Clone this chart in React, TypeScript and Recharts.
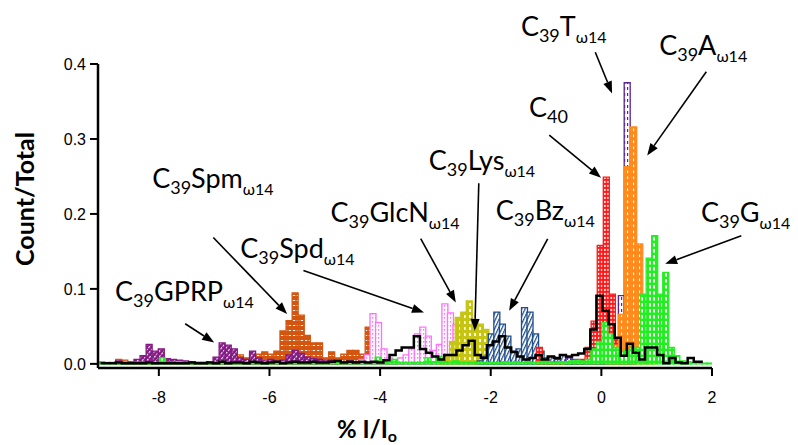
import React from 'react'
import { ComposedChart, Bar, Line, XAxis, YAxis, ReferenceLine, ReferenceDot, Label } from 'recharts'

// axis ranges (% I/Io on x, count/total on y)
const X_DOMAIN: [number, number] = [-9.1, 2]
const Y_DOMAIN: [number, number] = [-0.0055, 0.4]
const xTicks = [-8, -6, -4, -2, 0, 2]
const yTicks = [0, 0.1, 0.2, 0.3, 0.4]

// each histogram: centre of first bin, bin width, count/total per bin
const spmStart = -8.725
const spmStep = 0.11
const spmCounts = [
  0.006, 0.005, 0.002, 0.001, 0.001, 0.001, 0.001, 0, 0.001, 0.001,
  0.001, 0.001, 0.001, 0.001, 0.001, 0.002, 0.002, 0.003, 0.005, 0.006,
  0.012, 0.008, 0.013, 0.013, 0.016, 0.013, 0.017, 0.044, 0.0575, 0.0946,
  0.065, 0.038, 0.028, 0.028, 0.008, 0.016, 0.008, 0.013, 0.018, 0.018,
  0.013, 0.049, 0.032, 0.01, 0.004, 0.002,
]

const gprpStart = -8.725
const gprpStep = 0.11
const gprpCounts = [
  0.004, 0.003, 0.003, 0.006, 0.011, 0.026, 0.017, 0.02, 0.007, 0.006,
  0.005, 0.004, 0.003, 0.002, 0.002, 0.003, 0.009, 0.028, 0.025, 0.02,
  0.008, 0.006, 0.017, 0.008, 0.004, 0.006, 0.004, 0.005, 0.012, 0.018,
  0.014, 0.009, 0.007, 0.006, 0.004, 0.005, 0.004, 0.003, 0.004, 0.003,
  0.002, 0.003, 0.002, 0.002, 0.003, 0.002, 0.002, 0.003, 0.002, 0.004,
  0.003, 0.002, 0.003, 0.002, 0.002, 0.004, 0.005, 0.004, 0.005, 0.004,
  0.003,
]

const spdStart = -4.333
const spdStep = 0.1
const spdCounts = [
  0.006, 0.012, 0.067, 0.055, 0.02, 0.008, 0.005, 0.008, 0.012, 0.02,
  0.04, 0.049, 0.037, 0.018, 0.026, 0.08, 0.068, 0.053, 0.046, 0.03,
  0.02, 0.01, 0.006, 0.004, 0.003, 0.004, 0.003, 0.002, 0.003, 0.002,
  0.003, 0.002,
]

const glcnStart = -2.892
const glcnStep = 0.1
const glcnCounts = [0.005, 0.01, 0.03, 0.062, 0.069, 0.084, 0.058, 0.053, 0.046, 0.022, 0.012, 0.006, 0.004]

const bzStart = -2.194
const bzStep = 0.1
const bzCounts = [
  0.004, 0.01, 0.04, 0.069, 0.053, 0.037, 0.017, 0.02, 0.075, 0.069,
  0.04, 0.017, 0.008, 0.01, 0.006, 0.012, 0.008, 0.004, 0.003,
]

const c40Start = -1.12
const c40Step = 0.11
const c40Counts = [0.022, 0.004, 0.003, 0.002, 0.003, 0.002, 0.004, 0.006, 0.022, 0.057, 0.158, 0.249, 0.093, 0.035, 0.01, 0.004]

const tStart = -0.585
const tStep = 0.105
const tCounts = [0.008, 0.006, 0.003, 0.002, 0.004, 0.003, 0.002, 0.004, 0.006, 0.091, 0.375, 0.01]

const aStart = 0.145
const aStep = 0.11
const aCounts = [0.01, 0.025, 0.066, 0.263, 0.316, 0.16, 0.012, 0.005]

const gStart = -9.04
const gStep = 0.1
const gCounts = [
  0.003, 0.002, 0.002, 0.002, 0.003, 0.002, 0.002, 0.002, 0.002, 0.003,
  0.002, 0.008, 0.002, 0.002, 0.003, 0.002, 0.002, 0.002, 0.002, 0.002,
  0.003, 0.002, 0.002, 0.002, 0.002, 0.002, 0.003, 0.002, 0.002, 0.002,
  0.002, 0.002, 0.002, 0.003, 0.002, 0.002, 0.002, 0.002, 0.002, 0.002,
  0.003, 0.002, 0.002, 0.002, 0.002, 0.002, 0.002, 0.003, 0.002, 0.003,
  0.009, 0.003, 0.002, 0.006, 0.002, 0.002, 0.002, 0.002, 0.002, 0.008,
  0.003, 0.01, 0.003, 0.002, 0.004, 0.002, 0.002, 0.002, 0.002, 0.002,
  0.002, 0.002, 0.002, 0.003, 0.002, 0.003, 0.002, 0.003, 0.002, 0.003,
  0.004, 0.003, 0.002, 0.003, 0.003, 0.004, 0.005, 0.004, 0.006, 0.02,
  0.03, 0.055, 0.04, 0.022, 0.016, 0.018, 0.022, 0.022, 0.093, 0.141,
  0.171, 0.093, 0.122, 0.022, 0.011, 0.004, 0.003, 0.002, 0.002, 0.001,
  0.001,
]

// C39Lys is drawn as a black outline
const lysStart = -9.055
const lysStep = 0.11
const lysCounts = [
  0.001, 0.001, 0.001, 0.002, 0.001, 0.001, 0.001, 0.001, 0.002, 0.001,
  0.001, 0.001, 0.001, 0.001, 0.001, 0.002, 0.001, 0.001, 0.002, 0.001,
  0.003, 0.001, 0.002, 0.002, 0.001, 0.003, 0.002, 0.001, 0.002, 0.003,
  0.001, 0.002, 0.003, 0.002, 0.002, 0.003, 0.002, 0.002, 0.003, 0.004,
  0.002, 0.003, 0.002, 0.003, 0.002, 0.003,
  0.002, 0.005, 0.012, 0.018, 0.022, 0.022, 0.037, 0.02, 0.015, 0.01,
  0.006, 0.012, 0.012, 0.018, 0.025, 0.031, 0.012, 0.008, 0.025, 0.03,
  0.037, 0.022, 0.016, 0.01, 0.006, 0.008, 0.012, 0.006, 0.01, 0.008,
  0.012, 0.01, 0.012, 0.014, 0.02, 0.046, 0.091, 0.071, 0.053, 0.035,
  0.011, 0.027, 0.015, 0.006, 0.022, 0.022, 0.012, 0.001, 0.008, 0.002,
  0.001, 0.008, 0.003, 0.003,
]

// annotation text anchors (left / baseline) and arrows, in axis units
const tags = [
  { sub: '39', name: 'GPRP', tail: true, x: -8.792, y: 0.0843 },
  { sub: '39', name: 'Spm', tail: true, x: -8.121, y: 0.234 },
  { sub: '39', name: 'Spd', tail: true, x: -6.527, y: 0.1418 },
  { sub: '39', name: 'GlcN', tail: true, x: -4.897, y: 0.1886 },
  { sub: '39', name: 'Lys', tail: true, x: -3.121, y: 0.258 },
  { sub: '39', name: 'Bz', tail: true, x: -1.908, y: 0.1913 },
  { sub: '40', name: '', tail: false, x: -1.31, y: 0.329 },
  { sub: '39', name: 'T', tail: true, x: -1.455, y: 0.437 },
  { sub: '39', name: 'A', tail: true, x: 1.045, y: 0.412 },
  { sub: '39', name: 'G', tail: true, x: 1.8, y: 0.1886 },
]

const arrows = [
  { x1: -7.524, y1: 0.0535, x2: -7.0, y2: 0.0285 },
  { x1: -7.016, y1: 0.1686, x2: -5.681, y2: 0.0665 },
  { x1: -5.386, y1: 0.1244, x2: -3.207, y2: 0.0686 },
  { x1: -3.266, y1: 0.167, x2: -2.632, y2: 0.082 },
  { x1: -2.216, y1: 0.241, x2: -2.288, y2: 0.044 },
  { x1: -0.971, y1: 0.1668, x2: -1.667, y2: 0.0709 },
  { x1: -0.942, y1: 0.305, x2: -0.006, y2: 0.2484 },
  { x1: -0.11, y1: 0.4157, x2: 0.194, y2: 0.3608 },
  { x1: 1.897, y1: 0.3897, x2: 0.828, y2: 0.278 },
  { x1: 2.53, y1: 0.171, x2: 1.154, y2: 0.1334 },
]

const toBins = (start: number, step: number, counts: number[]) =>
  counts.map((y, i) => ({ x: +(start + i * step).toFixed(4), y }))

// drawn back to front
const histograms = [
  { id: 'spm', color: '#D4550F', fill: 'url(#patSpm)', rows: toBins(spmStart, spmStep, spmCounts) },
  { id: 'gprp', color: '#841984', fill: 'url(#patGprp)', rows: toBins(gprpStart, gprpStep, gprpCounts) },
  { id: 'spd', color: '#FF70FF', fill: 'url(#patSpd)', rows: toBins(spdStart, spdStep, spdCounts) },
  { id: 'glcn', color: '#C6C414', fill: 'url(#patGlcn)', rows: toBins(glcnStart, glcnStep, glcnCounts) },
  { id: 'bz', color: '#1F4E8C', fill: 'url(#patBz)', rows: toBins(bzStart, bzStep, bzCounts) },
  { id: 'c40', color: '#FF1A1A', fill: 'url(#patC40)', rows: toBins(c40Start, c40Step, c40Counts) },
  { id: 't', color: '#5B239E', fill: 'url(#patT)', rows: toBins(tStart, tStep, tCounts) },
  { id: 'a', color: '#FF8A1C', fill: 'url(#patA)', rows: toBins(aStart, aStep, aCounts) },
  { id: 'g', color: '#22EE22', fill: 'url(#patG)', rows: toBins(gStart, gStep, gCounts) },
]
const lysRows = toBins(lysStart, lysStep, lysCounts)

const W = 790
const H = 437
const plotMargin = { top: 56, right: 86, bottom: 77, left: 90 }
const tickFont = { fill: '#000', fontSize: 16, fontFamily: '"Liberation Sans", Arial, sans-serif' }
const labelFont = 'Lato, "Open Sans", sans-serif'

function Patterns() {
  return (
    <svg width={0} height={0} style={{ position: 'absolute' }}>
      <defs>
        <pattern id="patC40" width={3.2} height={4} patternUnits="userSpaceOnUse">
          <rect width={3.2} height={4} fill="#FF1A1A" />
          <rect x={0.9} y={0.9} width={1.6} height={2} fill="#fff" />
        </pattern>
        <pattern id="patA" width={3} height={6} patternUnits="userSpaceOnUse">
          <rect width={3} height={6} fill="#FF8A1C" />
          <rect x={1} y={0.5} width={1.1} height={2.6} fill="#fff" />
        </pattern>
        <pattern id="patG" width={4} height={6} patternUnits="userSpaceOnUse">
          <rect width={4} height={6} fill="#22EE22" />
          <rect x={1} y={1} width={2} height={3.5} fill="#fff" />
        </pattern>
        <pattern id="patGprp" width={3.5} height={3.5} patternUnits="userSpaceOnUse" patternTransform="rotate(40)">
          <rect width={3.5} height={3.5} fill="#841984" />
          <rect x={0} y={0} width={1.1} height={2.2} fill="#fff" />
        </pattern>
        <pattern id="patSpm" width={4} height={5} patternUnits="userSpaceOnUse">
          <rect width={4} height={5} fill="#D4550F" />
          <rect x={0.8} y={2} width={2.4} height={1} fill="#fff" />
        </pattern>
        <pattern id="patSpd" width={3} height={4} patternUnits="userSpaceOnUse">
          <rect width={3} height={4} fill="#fff" />
          <rect x={1} y={1} width={1.3} height={1.6} fill="#FF70FF" />
        </pattern>
        <pattern id="patGlcn" width={5} height={6} patternUnits="userSpaceOnUse">
          <rect width={5} height={6} fill="#C6C414" />
          <rect x={1.2} y={1} width={1.8} height={3} fill="#fff" />
        </pattern>
        <pattern id="patBz" width={3.2} height={3.2} patternUnits="userSpaceOnUse" patternTransform="rotate(25)">
          <rect width={3.2} height={3.2} fill="#fff" />
          <rect x={0} y={0} width={1.2} height={3.2} fill="#1F4E8C" />
        </pattern>
        <pattern id="patT" width={3} height={6} patternUnits="userSpaceOnUse">
          <rect width={3} height={6} fill="#fff" />
          <rect x={1} y={1} width={1.2} height={3} fill="#5B239E" />
        </pattern>
      </defs>
    </svg>
  )
}

function Tag(props: any) {
  const { cx, cy, payload } = props
  const t = payload
  return (
    <text x={cx} y={cy} fontFamily={labelFont} fontSize={27} fill="#000">
      C
      <tspan fontSize={18} dy={6}>{t.sub}</tspan>
      {t.name ? <tspan dy={-6}>{t.name}</tspan> : null}
      {t.tail ? <tspan fontSize={16} dy={7}>ω14</tspan> : null}
    </text>
  )
}

function Arrow(props: any) {
  const { x1, y1, x2, y2 } = props
  const ang = Math.atan2(y2 - y1, x2 - x1)
  const len = 12
  const half = 4.5
  const bx = x2 - len * Math.cos(ang)
  const by = y2 - len * Math.sin(ang)
  const px = -Math.sin(ang) * half
  const py = Math.cos(ang) * half
  return (
    <g>
      <line x1={x1} y1={y1} x2={bx} y2={by} stroke="#000" strokeWidth={1.6} />
      <path d={`M${x2},${y2} L${bx + px},${by + py} L${bx - px},${by - py} Z`} fill="#000" />
    </g>
  )
}

export default function App() {
  return (
    <div style={{ position: 'relative', width: W, height: H }}>
      <Patterns />
      {histograms.map((h) => (
        <div key={h.id} style={{ position: 'absolute', left: 0, top: 0 }}>
          <ComposedChart width={W} height={H} data={h.rows} margin={plotMargin} barCategoryGap={0}>
            <XAxis type="number" dataKey="x" domain={X_DOMAIN} allowDataOverflow hide />
            <YAxis type="number" domain={Y_DOMAIN} allowDataOverflow hide />
            <Bar dataKey="y" fill={h.fill} stroke={h.color} strokeWidth={1.3} isAnimationActive={false} />
          </ComposedChart>
        </div>
      ))}
      <div style={{ position: 'absolute', left: 0, top: 0 }}>
        <ComposedChart width={W} height={H} data={lysRows} margin={{ top: 56, right: 86, bottom: 37, left: 10 }}>
          <XAxis
            type="number"
            dataKey="x"
            domain={X_DOMAIN}
            allowDataOverflow
            ticks={xTicks}
            height={40}
            tickSize={8}
            tickMargin={16}
            tick={tickFont}
            axisLine={{ stroke: '#000', strokeWidth: 2.5 }}
            tickLine={{ stroke: '#000', strokeWidth: 2 }}
          >
            <Label
              content={(p: any) => {
                const vb = p.viewBox
                return (
                  <text x={vb.x + vb.width / 2 - 38} y={vb.y + vb.height + 30} textAnchor="middle" fontFamily={labelFont} fontWeight={700} fontSize={24} fill="#000">
                    % I/I<tspan fontSize={16} dy={4}>o</tspan>
                  </text>
                )
              }}
            />
          </XAxis>
          <YAxis
            type="number"
            domain={Y_DOMAIN}
            allowDataOverflow
            ticks={yTicks}
            width={80}
            tickSize={8}
            tickMargin={4}
            tick={tickFont}
            tickFormatter={(v: number) => v.toFixed(1)}
            axisLine={{ stroke: '#000', strokeWidth: 2.5 }}
            tickLine={{ stroke: '#000', strokeWidth: 2 }}
          >
            <Label
              content={(p: any) => {
                const vb = p.viewBox
                const cx = vb.x + 6
                const cy = vb.y + vb.height / 2 - 17
                return (
                  <text transform={`translate(${cx}, ${cy}) rotate(-90)`} textAnchor="middle" dominantBaseline="central" fontFamily={labelFont} fontWeight={700} fontSize={25} fill="#000">
                    Count/Total
                  </text>
                )
              }}
            />
          </YAxis>
          <Line dataKey="y" type="step" stroke="#000" strokeWidth={2.5} dot={false} isAnimationActive={false} />
          {arrows.map((a, i) => (
            <ReferenceLine
              key={'ar' + i}
              segment={[{ x: a.x1, y: a.y1 }, { x: a.x2, y: a.y2 }]}
              ifOverflow="visible"
              shape={Arrow}
            />
          ))}
          {tags.map((t, i) => (
            <ReferenceDot
              key={'tg' + i}
              x={t.x}
              y={t.y}
              r={0}
              ifOverflow="visible"
              shape={(p: any) => <Tag {...p} payload={t} />}
            />
          ))}
        </ComposedChart>
      </div>
    </div>
  )
}
